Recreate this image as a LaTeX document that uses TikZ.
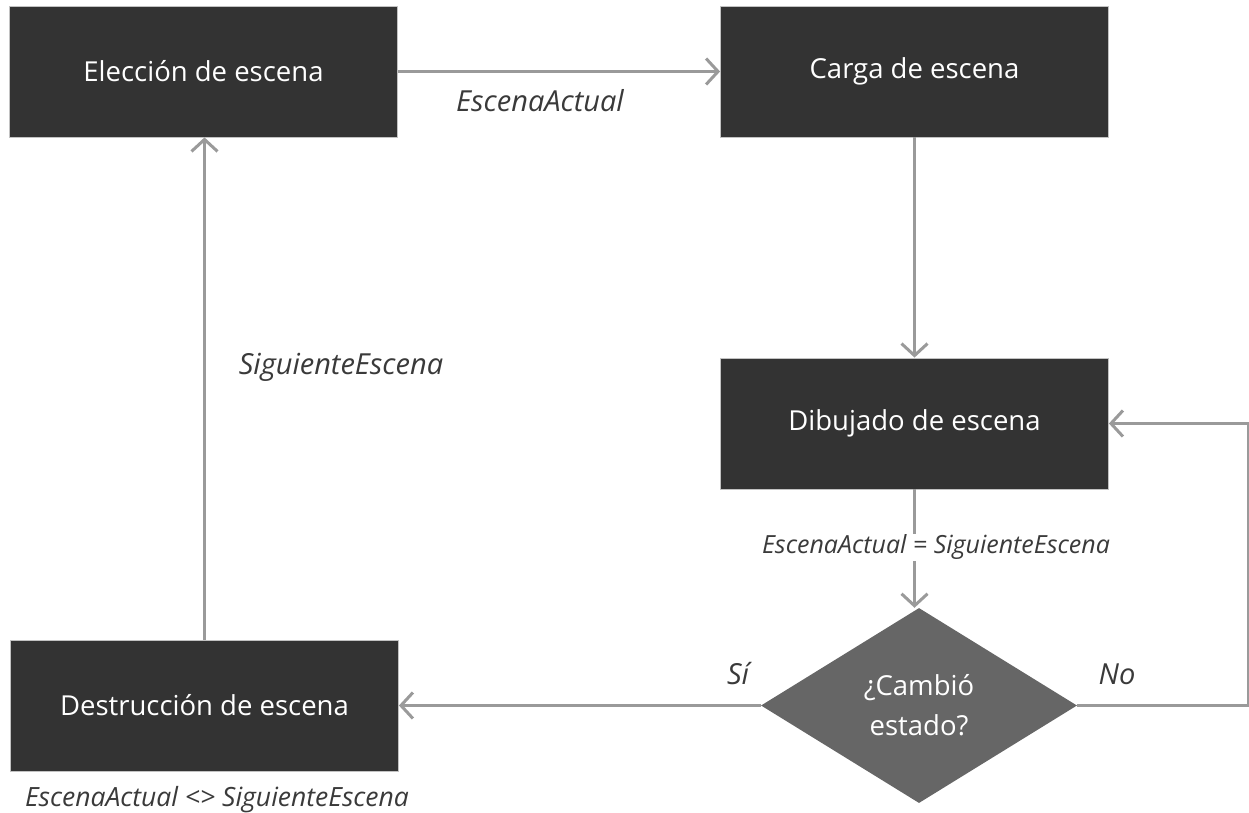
\documentclass[tikz,border=0pt]{standalone}
\usepackage{fontspec}
\setmainfont{Open Sans}
\usetikzlibrary{shapes.geometric,arrows.meta}
\definecolor{boxfill}{HTML}{333333}
\definecolor{diafill}{HTML}{666666}
\definecolor{linegray}{HTML}{9A9A9A}
\definecolor{labelgray}{HTML}{3A3A3A}
\tikzset{
  blockbox/.style={rectangle,fill=boxfill,draw=linegray!60,line width=0.8pt,text=white,
    minimum width=388pt,minimum height=131pt,inner sep=0pt,
    font=\fontsize{27.5}{32}\selectfont},
  decision/.style={diamond,fill=diafill,text=white,minimum width=316pt,minimum height=195pt,
    inner sep=0pt,align=center,font=\fontsize{27.5}{40}\selectfont},
  flow/.style={draw=linegray,line width=3pt,-{Straight Barb[length=12pt,width=26pt,line width=3pt]}},
  lbl/.style={text=labelgray,font=\fontsize{29}{34}\selectfont\itshape,inner sep=1pt}
}
\begin{document}
\begin{tikzpicture}[x=1pt,y=-1pt]
\useasboundingbox (0,0) rectangle (1249,813);
\node[blockbox] (elec) at (203.5,71.5) {Elección de escena};
\node[blockbox] (carga) at (914.5,71.5) {Carga de escena};
\node[blockbox] (dib) at (914.5,423.5) {Dibujado de escena};
\node[blockbox] (dest) at (204.5,705.5) {Destrucción de escena};
\node[decision] (cambio) at (919,705.5) {¿Cambió\\estado?};
\coordinate (rt) at (1248,705.5);
\coordinate (rb) at (1248,423.5);
\draw[flow] (elec.east) -- (carga.west);
\draw[flow] (carga.south) -- (dib.north);
\draw[flow] (dib.south) -- (dib.south|-cambio.north);
\draw[flow] (cambio.east) -- (rt) -- (rb) -- (dib.east);
\draw[flow] (cambio.west) -- (dest.east);
\draw[flow] (dest.north) -- (elec.south-|dest.north);
\node[lbl] (l1) at (540,101) {EscenaActual};
\node[lbl,fill=white,font=\fontsize{25}{29}\selectfont\itshape] (l2) at (936,547) {EscenaActual = SiguienteEscena};
\node[lbl] (l3) at (1117,674) {No};
\node[lbl] (l4) at (738,674) {Sí};
\node[lbl] (l5) at (341,367) {SiguienteEscena};
\node[lbl,font=\fontsize{26.5}{30}\selectfont\itshape] (l6) at (217,800) {EscenaActual <> SiguienteEscena};
\end{tikzpicture}
\end{document}
